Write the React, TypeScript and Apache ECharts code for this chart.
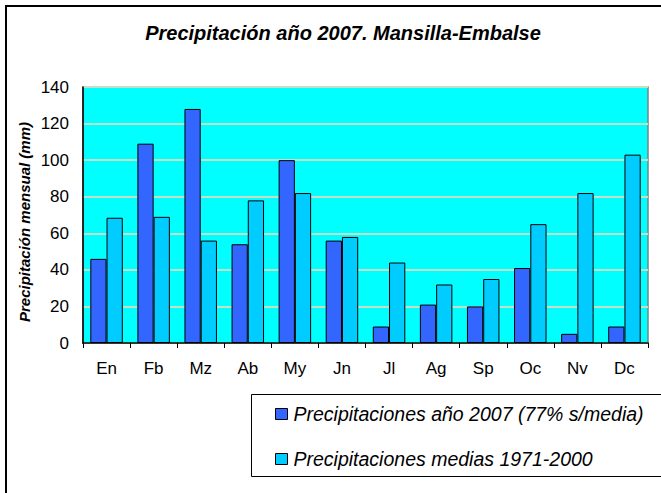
import React, { useEffect, useRef } from "react";
import * as echarts from "echarts";

const months = ["En", "Fb", "Mz", "Ab", "My", "Jn", "Jl", "Ag", "Sp", "Oc", "Nv", "Dc"];
const precip2007 = [46, 109, 128, 54, 100, 56, 9, 21, 20, 41, 5, 9];
const precipMedia = [68.5, 69, 56, 78, 82, 58, 44, 32, 35, 65, 82, 103];
const seriesNames = [
  "Precipitaciones año 2007 (77% s/media)",
  "Precipitaciones medias 1971-2000",
];
const titleText = "Precipitación año 2007. Mansilla-Embalse";
const yAxisName = "Precipitación mensual (mm)";

const FONT = "'Liberation Sans', Arial, sans-serif";

export default function App() {
  const ref = useRef<HTMLDivElement>(null);
  useEffect(() => {
    if (!ref.current) return;
    const chart = echarts.init(ref.current, undefined, { renderer: "svg" });
    chart.setOption({
      animation: false,
      backgroundColor: "#ffffff",
      textStyle: { fontFamily: FONT, color: "#000" },
      title: {
        text: titleText,
        left: 338,
        top: 18,
        textAlign: "center",
        textStyle: {
          fontFamily: FONT,
          fontSize: 20,
          fontWeight: "bold",
          fontStyle: "italic",
          color: "#000",
        },
      },
      graphic: [
        {
          type: "rect",
          z: 0,
          shape: { x: 6, y: 6, width: 720, height: 600 },
          style: { fill: "none", stroke: "#000", lineWidth: 2 },
        },
        {
          type: "rect",
          z: 0,
          shape: { x: 251.5, y: 394.5, width: 480, height: 82 },
          style: { fill: "#fff", stroke: "#000", lineWidth: 1 },
        },
        {
          type: "text",
          z: 5,
          x: 24,
          y: 222,
          rotation: Math.PI / 2,
          style: {
            text: yAxisName,
            fontFamily: FONT,
            fontSize: 15,
            fontWeight: "bold",
            fontStyle: "italic",
            fill: "#000",
            align: "center",
            verticalAlign: "middle",
          },
        },
      ],
      legend: {
        z: 10,
        orient: "vertical",
        left: 270,
        top: 399,
        itemWidth: 12,
        itemHeight: 11,
        itemGap: 25,
        icon: "rect",
        data: seriesNames,
        textStyle: {
          fontFamily: FONT,
          fontSize: 19.5,
          fontStyle: "italic",
          color: "#000",
          lineHeight: 20,
          padding: [0, 0, 0, 1],
        },
        itemStyle: { borderColor: "#000", borderWidth: 1 },
      },
      grid: {
        left: 83,
        top: 87,
        width: 565,
        height: 256,
        show: true,
        backgroundColor: "#00FFFF",
        borderColor: "#808080",
        borderWidth: 1.5,
      },
      xAxis: {
        type: "category",
        data: months,
        axisLine: { lineStyle: { color: "#000", width: 1.5 } },
        axisTick: { show: true, length: 5, lineStyle: { color: "#000" } },
        axisLabel: { fontFamily: FONT, fontSize: 17, color: "#000", margin: 17 },
      },
      yAxis: {
        type: "value",
        min: 0,
        max: 140,
        interval: 20,
        axisLine: { show: true, lineStyle: { color: "#000", width: 1.5 } },
        axisTick: { show: false },
        axisLabel: { fontFamily: FONT, fontSize: 17, color: "#000", margin: 14 },
        splitLine: { show: true, lineStyle: { color: "#C0E0C8", width: 2 } },
      },
      series: [
        {
          name: seriesNames[0],
          type: "bar",
          data: precip2007,
          barGap: "0%",
          barCategoryGap: "31%",
          itemStyle: { color: "#3366FF", borderColor: "#000", borderWidth: 1 },
        },
        {
          name: seriesNames[1],
          type: "bar",
          data: precipMedia,
          barGap: "0%",
          barCategoryGap: "31%",
          itemStyle: { color: "#00CCFF", borderColor: "#000", borderWidth: 1 },
        },
      ],
    });
    return () => chart.dispose();
  }, []);
  return (
    <div
      ref={ref}
      style={{ position: "fixed", left: 0, top: 0, width: 661, height: 493 }}
    />
  );
}
